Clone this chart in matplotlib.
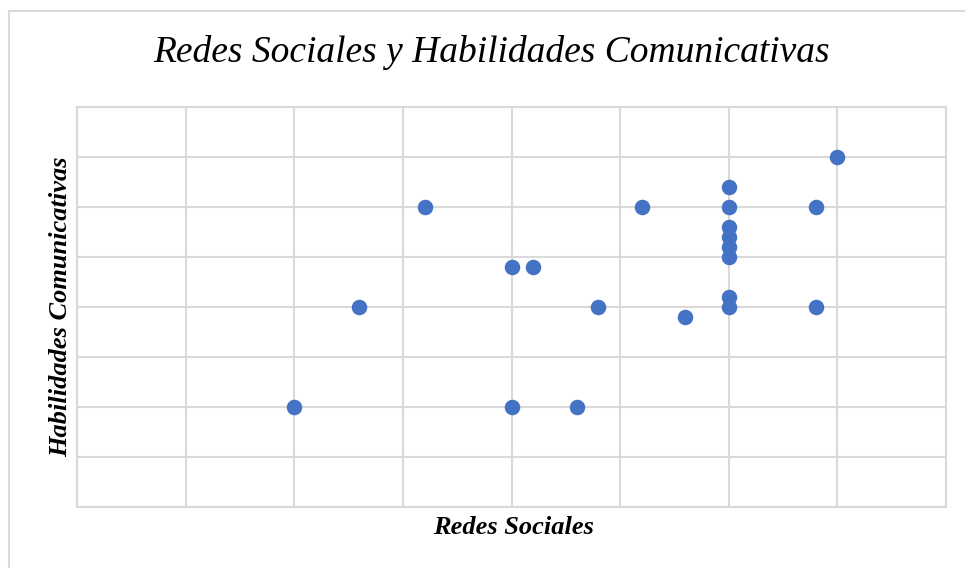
import numpy as np
import matplotlib.pyplot as plt
from matplotlib.patches import Rectangle

# values (arbitrary units, grid step = 1)
redes = [2.0, 2.6, 3.2, 4.0, 4.2, 4.0, 4.6, 4.8, 5.2, 5.6,
         6.0, 6.0, 6.0, 6.0, 6.0, 6.0, 6.0, 6.0, 6.8, 6.8, 7.0]
habilidades = [2.0, 4.0, 6.0, 4.8, 4.8, 2.0, 2.0, 4.0, 6.0, 3.8,
               6.4, 6.0, 5.6, 5.4, 5.2, 5.0, 4.2, 4.0, 6.0, 4.0, 7.0]

fig = plt.figure(figsize=(9.65, 5.68), dpi=100)
ax = fig.add_axes([77/965, 61/568, 869/965, 400/568])

ax.scatter(redes, habilidades, s=125, color='#4472c4', zorder=3, linewidths=0)

ax.set_xlim(0, 8)
ax.set_ylim(0, 8)
ax.set_xticks(np.arange(0, 9, 1))
ax.set_yticks(np.arange(0, 9, 1))
ax.tick_params(length=0, labelleft=False, labelbottom=False)
ax.grid(True, color='#d9d9d9', linewidth=1.5)
for s in ax.spines.values():
    s.set_color('#d9d9d9')
    s.set_linewidth(1.5)

fig.text(492/965, 1 - 52/568, 'Redes Sociales y Habilidades Comunicativas',
         ha='center', va='center', family='Liberation Serif', style='italic',
         fontsize=27)
fig.text(513/965, 1 - 527/568, 'Redes Sociales', ha='center', va='center',
         family='Liberation Serif', style='italic', weight='bold', fontsize=19)
fig.text(61/965, 1 - 307/568, 'Habilidades Comunicativas', ha='center', va='center',
         rotation=90, family='Liberation Serif', style='italic', weight='bold',
         fontsize=19)

# outer chart border
fig.patches.append(Rectangle((9/965, -0.1), 1.2, 1 - 11/568 + 0.1,
                             transform=fig.transFigure, fill=False,
                             edgecolor='#d9d9d9', linewidth=1.5))

fig.savefig('out.png', dpi=100)
